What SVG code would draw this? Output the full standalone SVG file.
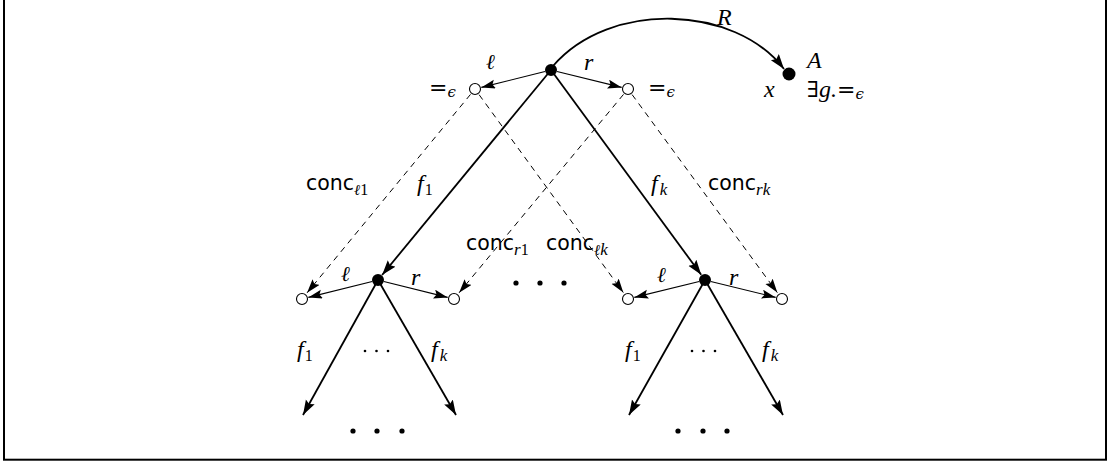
<svg xmlns="http://www.w3.org/2000/svg" width="1110" height="465" viewBox="0 0 1110 465">
<style>
.m{font-family:"Liberation Serif","DejaVu Serif",serif;font-style:italic;font-size:24px;fill:#000}
.s{font-family:"DejaVu Serif","Liberation Serif",serif;font-size:22px;fill:#000}
.l{font-family:"DejaVu Serif","Liberation Serif",serif;font-style:italic;font-size:21px;fill:#000}
.sub{font-family:"Liberation Serif","DejaVu Serif",serif;font-style:italic;font-size:17px}
.subn{font-family:"Liberation Serif","DejaVu Serif",serif;font-style:normal;font-size:16px}
.subs{font-family:"DejaVu Serif","Liberation Serif",serif;font-style:italic;font-size:15px}
.c{font-family:"DejaVu Sans","Liberation Sans",sans-serif;font-size:20.5px;fill:#000}
.thick{stroke:#000;stroke-width:1.8;fill:none}
.thin{stroke:#000;stroke-width:1.1;fill:none}
.dash{stroke:#000;stroke-width:1;fill:none;stroke-dasharray:6,5}
.full{fill:#000}
.open{fill:#fff;stroke:#000;stroke-width:1.1}
</style>
<defs>
<marker id="ah" markerUnits="userSpaceOnUse" markerWidth="17" markerHeight="11" refX="15" refY="5" orient="auto">
<path d="M0,0 L15,5 L0,10 L2.5,5 z" fill="#000"/>
</marker>
<marker id="as" markerUnits="userSpaceOnUse" markerWidth="16" markerHeight="10" refX="14" refY="4.5" orient="auto">
<path d="M0,0 L14,4.5 L0,9 L2.5,4.5 z" fill="#000"/>
</marker>
</defs>
<rect x="4" y="-5" width="1102" height="464.7" fill="#fff" stroke="#000" stroke-width="2"/>
<g id="connectors">
<path class="thick" d="M553,66 C610,0 735,5 784,69" marker-end="url(#ah)"/>
<text class="m" x="717" y="25">R</text>
<line class="thin" x1="545" y1="71.5" x2="481.3" y2="87.4" marker-end="url(#as)"/>
<text class="l" x="486" y="69">ℓ</text>
<line class="thin" x1="557" y1="71.5" x2="621.7" y2="87.4" marker-end="url(#as)"/>
<text class="m" x="584" y="70">r</text>
<line class="thick" x1="551" y1="70" x2="382.1" y2="275" marker-end="url(#ah)"/>
<text class="m" x="417" y="191">f<tspan class="subn" dx="1" dy="4">1</tspan></text>
<line class="thick" x1="551" y1="70" x2="701.2" y2="274.8" marker-end="url(#ah)"/>
<text class="m" x="651" y="191">f<tspan class="sub" dx="2" dy="4">k</tspan></text>
<line class="dash" x1="470.5" y1="94.4" x2="307.1" y2="292.8" marker-end="url(#as)"/>
<text class="c" x="306" y="190">conc<tspan class="subs" dy="5">ℓ</tspan><tspan class="subn">1</tspan></text>
<line class="dash" x1="479.1" y1="94.7" x2="623.3" y2="292.5" marker-end="url(#as)"/>
<text class="c" x="546" y="250">conc<tspan class="subs" dy="5">ℓ</tspan><tspan class="sub">k</tspan></text>
<line class="dash" x1="623.5" y1="94.4" x2="459.1" y2="292.8" marker-end="url(#as)"/>
<text class="c" x="466" y="250">conc<tspan class="sub" dy="5">r</tspan><tspan class="subn">1</tspan></text>
<line class="dash" x1="632.1" y1="94.6" x2="777.3" y2="292.6" marker-end="url(#as)"/>
<text class="c" x="708" y="190">conc<tspan class="sub" dy="5">r</tspan><tspan class="sub">k</tspan></text>
<line class="thin" x1="372.2" y1="281.5" x2="308.3" y2="297.4" marker-end="url(#as)"/>
<text class="l" x="341" y="281">ℓ</text>
<line class="thin" x1="383.8" y1="281.5" x2="447.7" y2="297.4" marker-end="url(#as)"/>
<text class="m" x="411" y="285">r</text>
<line class="thin" x1="699.2" y1="281.5" x2="634.3" y2="297.4" marker-end="url(#as)"/>
<text class="l" x="657" y="282">ℓ</text>
<line class="thin" x1="710.8" y1="281.5" x2="775.7" y2="297.4" marker-end="url(#as)"/>
<text class="m" x="729" y="285">r</text>
<line class="thick" x1="378" y1="280" x2="303" y2="415" marker-end="url(#ah)"/>
<text class="m" x="297" y="357">f<tspan class="subn" dx="1" dy="4">1</tspan></text>
<line class="thick" x1="378" y1="280" x2="456" y2="415" marker-end="url(#ah)"/>
<text class="m" x="431" y="357">f<tspan class="sub" dx="2" dy="4">k</tspan></text>
<line class="thick" x1="705" y1="280" x2="629" y2="415" marker-end="url(#ah)"/>
<text class="m" x="625" y="357">f<tspan class="subn" dx="1" dy="4">1</tspan></text>
<line class="thick" x1="705" y1="280" x2="783" y2="415" marker-end="url(#ah)"/>
<text class="m" x="762" y="357">f<tspan class="sub" dx="2" dy="4">k</tspan></text>
</g>
<g id="dots">
<circle class="full" cx="365" cy="351" r="1.3"/><circle class="full" cx="376.5" cy="351" r="1.3"/><circle class="full" cx="388" cy="351" r="1.3"/>
<circle class="full" cx="692" cy="351" r="1.3"/><circle class="full" cx="703.5" cy="351" r="1.3"/><circle class="full" cx="715" cy="351" r="1.3"/>
<circle class="full" cx="516" cy="283" r="2.6"/><circle class="full" cx="540" cy="283" r="2.6"/><circle class="full" cx="564" cy="283" r="2.6"/>
<circle class="full" cx="353" cy="431" r="2.6"/><circle class="full" cx="377" cy="431" r="2.6"/><circle class="full" cx="402" cy="431" r="2.6"/>
<circle class="full" cx="678" cy="431" r="2.6"/><circle class="full" cx="703" cy="431" r="2.6"/><circle class="full" cx="727" cy="431" r="2.6"/>
</g>
<g id="n-root"><circle class="full" cx="551" cy="70" r="6"/></g>
<g id="n-l"><circle class="open" cx="475" cy="89" r="5.5"/>
<text class="s" x="429" y="95">=<tspan class="subs" dy="2">ϵ</tspan></text></g>
<g id="n-r"><circle class="open" cx="628" cy="89" r="5.5"/>
<text class="s" x="648" y="95">=<tspan class="subs" dy="2">ϵ</tspan></text></g>
<g id="n-x"><circle class="full" cx="789" cy="74" r="6.5"/>
<text class="m" x="764" y="97">x</text>
<text class="m" x="807" y="68">A</text>
<text class="s" x="807" y="97">∃<tspan class="m">g.</tspan>=<tspan class="subs" dy="2">ϵ</tspan></text></g>
<g id="n-a"><circle class="full" cx="378" cy="280" r="6"/></g>
<g id="n-al"><circle class="open" cx="302" cy="299" r="5.5"/></g>
<g id="n-ar"><circle class="open" cx="454" cy="299" r="5.5"/></g>
<g id="n-b"><circle class="full" cx="705" cy="280" r="6"/></g>
<g id="n-bl"><circle class="open" cx="628" cy="299" r="5.5"/></g>
<g id="n-br"><circle class="open" cx="782" cy="299" r="5.5"/></g>
</svg>
